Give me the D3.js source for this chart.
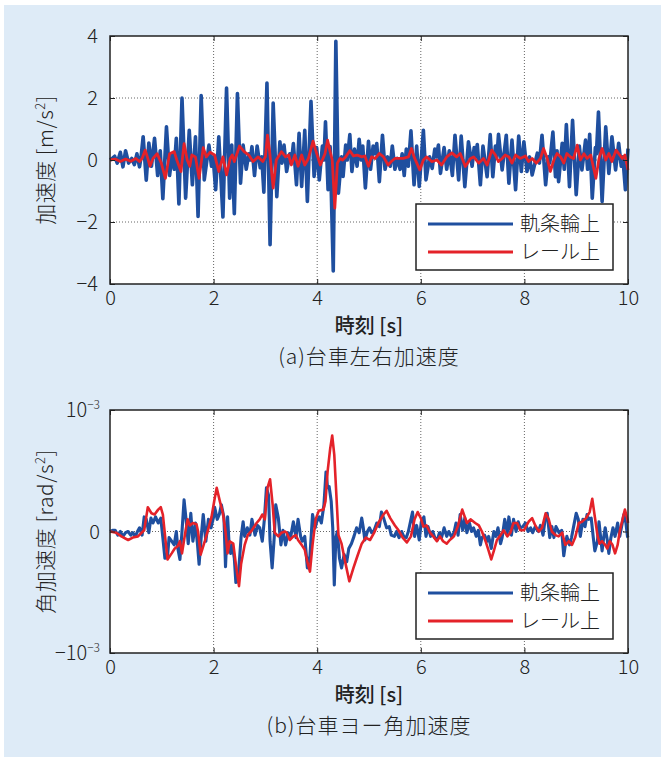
<!DOCTYPE html>
<html>
<head>
<meta charset="utf-8">
<script src="https://cdn.jsdelivr.net/npm/d3@7"></script>
<style>
  body { margin: 0; background: #fff; }
  svg text { font-family: "Noto Sans CJK JP", "Noto Sans", sans-serif; fill: #222; font-weight: 300; }
  .axis path { display: none; }
  .axis line { stroke: #222; stroke-width: 1; }
  .axis text { font-size: 20px; }
</style>
</head>
<body>
<svg id="chart" width="665" height="760"></svg>
<script>
// (a) lateral bogie acceleration [m/s^2], [time s, value]
var accWheel = [[0,0],[0.05,0.06],[0.09,0.12],[0.14,-0.1],[0.2,0.25],[0.25,-0.22],[0.3,0.3],[0.36,-0.1],[0.42,0.05],[0.47,-0.15],[0.52,0.2],[0.57,-0.22],[0.6,0.1],[0.64,0.75],[0.7,-0.65],[0.75,0.55],[0.8,-0.2],[0.86,0.7],[0.92,-0.5],[0.97,0.3],[1.02,-1.25],[1.09,1.07],[1.15,-0.5],[1.2,0.2],[1.24,-0.3],[1.28,0.7],[1.33,-1.42],[1.39,2.0],[1.46,-1.23],[1.53,0.96],[1.59,-0.8],[1.65,0.75],[1.7,-1.82],[1.76,2.08],[1.82,-0.64],[1.91,0.48],[1.96,-0.2],[1.99,0.1],[2.04,-0.96],[2.1,0.75],[2.18,-1.84],[2.25,2.32],[2.31,-1.23],[2.35,0.48],[2.4,-1.73],[2.46,2.14],[2.52,-0.75],[2.57,0.48],[2.63,-0.3],[2.68,0.2],[2.71,0.0],[2.74,0.43],[2.79,-0.5],[2.84,0.45],[2.9,-0.25],[2.93,0.1],[2.97,-1.04],[3.03,2.48],[3.09,-2.73],[3.15,1.84],[3.22,-1.18],[3.28,0.59],[3.32,-0.1],[3.36,0.48],[3.41,-0.37],[3.47,0.2],[3.5,-0.1],[3.54,0.53],[3.6,-0.8],[3.65,0.86],[3.7,-0.85],[3.76,0.96],[3.81,-1.34],[3.88,1.89],[3.94,-0.53],[3.99,0.4],[4.04,-0.64],[4.1,0.45],[4.13,0.0],[4.16,1.23],[4.21,-0.96],[4.25,0.43],[4.31,-3.58],[4.36,3.83],[4.41,-1.07],[4.47,0.1],[4.5,-0.53],[4.55,0.48],[4.58,0.0],[4.63,0.82],[4.67,-0.37],[4.72,0.35],[4.77,-0.2],[4.81,0.67],[4.85,0.0],[4.88,0.45],[4.93,-0.9],[4.99,0.6],[5.03,-0.3],[5.08,0.45],[5.11,0.2],[5.15,0.53],[5.2,-0.7],[5.26,0.8],[5.31,-0.3],[5.36,0.1],[5.41,-0.2],[5.45,0.45],[5.5,-0.3],[5.55,0.05],[5.6,-0.3],[5.64,0.2],[5.68,-0.5],[5.72,0.35],[5.76,-0.2],[5.81,0.94],[5.87,-0.8],[5.92,0.45],[5.97,-0.85],[6.05,0.96],[6.1,-0.64],[6.17,0.1],[6.22,-0.27],[6.27,0.35],[6.3,0.1],[6.34,0.48],[6.38,-0.43],[6.45,0.4],[6.5,-0.3],[6.55,0.3],[6.61,-0.5],[6.66,0.8],[6.73,-0.64],[6.78,0.77],[6.85,-0.86],[6.92,0.59],[6.99,-0.2],[7.03,0.4],[7.06,0.1],[7.09,0.5],[7.15,-0.8],[7.2,0.45],[7.28,-0.54],[7.34,0.82],[7.39,-0.54],[7.44,0.45],[7.47,0.1],[7.5,0.83],[7.57,-0.32],[7.65,0.8],[7.7,-0.75],[7.76,0.64],[7.83,-0.96],[7.89,0.77],[7.94,-0.37],[7.99,0.59],[8.05,-0.37],[8.1,0.1],[8.15,-0.48],[8.25,0.22],[8.29,-0.1],[8.34,0.8],[8.41,-0.8],[8.46,0.1],[8.49,-0.1],[8.55,0.9],[8.6,-0.54],[8.63,0.3],[8.66,-0.7],[8.73,0.54],[8.77,-0.3],[8.81,1.14],[8.87,-0.86],[8.93,1.28],[9.0,-1.12],[9.06,0.45],[9.11,-0.32],[9.18,0.64],[9.22,-0.3],[9.26,0.83],[9.31,-1.23],[9.37,0.4],[9.39,0.2],[9.43,1.55],[9.5,-1.34],[9.57,1.07],[9.63,-0.43],[9.69,0.75],[9.76,-0.32],[9.82,0.54],[9.87,-0.2],[9.9,0.1],[9.95,-0.96],[10,0.37]];

var accRail = [[0,0],[0.1,0.03],[0.2,-0.05],[0.3,0.03],[0.4,-0.04],[0.5,0.05],[0.57,-0.05],[0.62,0.05],[0.68,0.32],[0.73,0.05],[0.77,-0.2],[0.83,0.05],[0.91,0.2],[0.99,-0.1],[1.07,-0.59],[1.15,0.2],[1.24,0.27],[1.29,0.0],[1.37,-0.37],[1.43,0.53],[1.49,0.0],[1.54,-0.2],[1.58,0.16],[1.65,0.1],[1.72,-0.59],[1.8,0.4],[1.86,0.1],[1.93,0.25],[2.02,0.16],[2.1,-0.37],[2.18,0.1],[2.25,-0.48],[2.32,0.05],[2.36,0.16],[2.4,-0.05],[2.5,0.45],[2.59,0.27],[2.68,0.16],[2.76,-0.05],[2.86,0.1],[2.95,-0.05],[3.0,0.1],[3.04,0.8],[3.08,0.3],[3.15,-0.91],[3.21,0.0],[3.31,0.27],[3.39,0.1],[3.45,0.16],[3.5,-0.16],[3.57,0.16],[3.63,-0.2],[3.7,0.16],[3.76,-0.16],[3.83,0.05],[3.92,0.61],[3.97,0.32],[4.06,-0.16],[4.15,0.2],[4.2,0.64],[4.25,0.27],[4.29,0.0],[4.34,-1.55],[4.39,-0.1],[4.44,0.05],[4.49,0.0],[4.55,0.1],[4.63,0.3],[4.7,0.13],[4.77,0.16],[4.86,0.1],[4.92,0.13],[4.99,-0.2],[5.05,0.1],[5.12,0.05],[5.2,0.21],[5.28,0.1],[5.37,-0.16],[5.43,-0.05],[5.5,0.05],[5.57,0.05],[5.66,0.05],[5.76,0.1],[5.82,0.37],[5.87,0.1],[5.98,-0.32],[6.05,0.0],[6.11,0.1],[6.21,-0.05],[6.31,0.0],[6.4,-0.16],[6.5,0.1],[6.6,0.23],[6.69,0.1],[6.76,0.21],[6.86,-0.21],[6.96,0.05],[7.02,0.1],[7.12,-0.1],[7.21,0.05],[7.28,-0.16],[7.37,0.32],[7.44,0.16],[7.5,-0.05],[7.57,0.05],[7.63,0.16],[7.7,0.1],[7.76,-0.1],[7.83,0.16],[7.92,0.05],[8.02,0.13],[8.08,-0.05],[8.15,0.05],[8.23,-0.1],[8.31,0.05],[8.37,0.37],[8.44,0.05],[8.5,-0.37],[8.57,0.0],[8.63,0.21],[8.7,0.1],[8.76,-0.1],[8.82,0.21],[8.89,0.1],[8.95,0.05],[9.02,0.48],[9.08,0.0],[9.15,0.2],[9.21,0.05],[9.28,0.16],[9.38,-0.59],[9.44,0.05],[9.5,0.37],[9.57,0.0],[9.63,0.21],[9.69,-0.05],[9.77,0.32],[9.84,0.16],[9.89,0.05],[9.94,0.16],[10,-0.32]];

// (b) bogie yaw angular acceleration, in units of 10^-3 rad/s^2
var yawWheel = [[0,0],[0.05,0.01],[0.1,0.01],[0.15,-0.03],[0.2,0.0],[0.25,-0.04],[0.3,-0.01],[0.35,0.0],[0.4,-0.03],[0.44,-0.01],[0.49,-0.04],[0.53,0.0],[0.57,0.03],[0.62,-0.03],[0.66,0.12],[0.7,0.1],[0.75,-0.01],[0.79,0.11],[0.83,0.07],[0.88,0.12],[0.93,0.07],[0.98,0.11],[1.02,-0.05],[1.06,-0.22],[1.11,-0.21],[1.14,-0.05],[1.19,-0.08],[1.24,-0.11],[1.28,0.0],[1.31,-0.14],[1.35,-0.23],[1.39,0.0],[1.43,0.26],[1.48,0.05],[1.51,-0.1],[1.56,0.15],[1.6,-0.08],[1.65,0.07],[1.69,-0.11],[1.72,-0.27],[1.77,0.0],[1.8,0.14],[1.85,-0.08],[1.9,0.1],[1.95,0.03],[2.0,0.12],[2.02,0.2],[2.07,0.1],[2.11,0.14],[2.15,0.22],[2.2,0.11],[2.23,-0.29],[2.27,0.12],[2.3,-0.11],[2.33,-0.18],[2.36,-0.11],[2.4,-0.22],[2.43,-0.42],[2.47,-0.41],[2.53,-0.05],[2.57,0.08],[2.6,-0.04],[2.65,0.03],[2.7,-0.03],[2.74,0.1],[2.8,-0.03],[2.85,0.05],[2.89,0.03],[2.94,-0.08],[2.98,0.1],[3.02,0.36],[3.06,0.3],[3.09,-0.08],[3.13,-0.3],[3.17,-0.05],[3.2,0.22],[3.25,0.11],[3.3,-0.11],[3.34,0.01],[3.39,-0.11],[3.44,-0.01],[3.49,-0.04],[3.54,0.08],[3.59,-0.05],[3.63,0.1],[3.68,-0.04],[3.71,-0.08],[3.76,-0.04],[3.81,-0.3],[3.86,-0.2],[3.91,0.14],[3.96,0.03],[3.99,0.08],[4.04,0.12],[4.08,0.07],[4.13,0.22],[4.17,0.49],[4.2,0.36],[4.23,0.37],[4.27,0.25],[4.3,0.03],[4.33,-0.44],[4.36,-0.05],[4.39,0.0],[4.43,-0.22],[4.47,-0.3],[4.52,-0.19],[4.57,-0.25],[4.61,-0.14],[4.66,-0.1],[4.71,-0.04],[4.76,0.03],[4.81,-0.01],[4.86,0.11],[4.89,0.03],[4.92,-0.07],[4.97,0.0],[5.01,0.03],[5.05,-0.01],[5.1,0.01],[5.15,0.07],[5.2,0.04],[5.24,0.16],[5.29,0.1],[5.34,0.03],[5.39,0.04],[5.43,-0.03],[5.49,-0.04],[5.53,0.0],[5.58,-0.05],[5.63,0.0],[5.67,-0.04],[5.72,-0.05],[5.76,0.0],[5.8,0.08],[5.84,0.16],[5.88,-0.04],[5.92,0.05],[5.97,-0.07],[6.01,0.08],[6.06,0.12],[6.1,-0.04],[6.14,0.04],[6.19,-0.04],[6.23,0.0],[6.27,-0.05],[6.32,-0.07],[6.36,-0.01],[6.4,-0.05],[6.45,0.03],[6.5,-0.04],[6.54,0.0],[6.6,-0.05],[6.64,-0.01],[6.68,0.07],[6.72,-0.03],[6.76,0.14],[6.81,0.01],[6.85,0.11],[6.89,-0.01],[6.94,0.07],[6.98,0.0],[7.02,0.03],[7.07,-0.04],[7.11,0.01],[7.15,-0.11],[7.18,-0.05],[7.23,-0.03],[7.28,-0.08],[7.31,-0.04],[7.36,-0.14],[7.41,0.0],[7.45,-0.04],[7.49,0.03],[7.54,-0.1],[7.57,-0.05],[7.62,0.1],[7.67,-0.01],[7.7,0.12],[7.75,-0.03],[7.79,0.1],[7.84,0.0],[7.88,0.08],[7.92,0.03],[7.97,0.04],[8.02,0.07],[8.07,0.0],[8.12,0.03],[8.16,-0.01],[8.21,0.04],[8.27,0.0],[8.31,0.05],[8.36,-0.03],[8.4,0.1],[8.44,0.15],[8.49,-0.05],[8.53,0.04],[8.57,-0.05],[8.61,0.04],[8.67,-0.01],[8.72,0.01],[8.76,-0.2],[8.79,-0.11],[8.82,-0.04],[8.87,-0.11],[8.91,-0.05],[8.95,0.04],[9.0,0.15],[9.04,0.1],[9.08,-0.04],[9.13,0.1],[9.17,0.04],[9.21,0.14],[9.24,0.1],[9.29,0.11],[9.33,-0.05],[9.36,-0.16],[9.41,-0.08],[9.44,0.08],[9.47,-0.04],[9.5,-0.16],[9.53,-0.05],[9.56,0.03],[9.6,-0.07],[9.63,-0.18],[9.67,-0.05],[9.71,0.03],[9.75,-0.04],[9.8,0.07],[9.84,-0.04],[9.88,0.05],[9.92,0.14],[9.96,0.07],[9.99,-0.04],[10,-0.05]];

var yawRail = [[0,0],[0.12,-0.01],[0.22,-0.04],[0.35,-0.07],[0.44,-0.05],[0.54,-0.04],[0.61,-0.01],[0.66,0.01],[0.73,0.2],[0.8,0.15],[0.86,0.14],[0.93,0.18],[0.98,0.2],[1.02,0.14],[1.11,-0.23],[1.19,-0.18],[1.25,-0.14],[1.31,-0.12],[1.35,-0.08],[1.39,-0.18],[1.46,0.01],[1.5,0.1],[1.54,0.05],[1.6,0.07],[1.67,0.06],[1.7,0.0],[1.75,-0.19],[1.83,-0.08],[1.89,0.01],[1.96,0.12],[2.02,0.27],[2.06,0.36],[2.12,0.25],[2.18,0.15],[2.23,0.0],[2.27,-0.18],[2.31,-0.08],[2.38,-0.1],[2.43,-0.27],[2.49,-0.45],[2.53,-0.27],[2.6,-0.11],[2.66,-0.03],[2.74,0.01],[2.83,0.07],[2.89,0.1],[2.94,0.14],[2.99,0.1],[3.04,0.36],[3.09,0.43],[3.14,0.22],[3.18,-0.01],[3.25,-0.04],[3.31,-0.01],[3.38,0.0],[3.41,-0.01],[3.47,-0.07],[3.54,-0.04],[3.59,-0.03],[3.63,-0.07],[3.7,-0.11],[3.76,-0.15],[3.81,-0.25],[3.86,-0.33],[3.91,-0.11],[3.97,0.1],[4.03,0.17],[4.12,0.18],[4.16,0.25],[4.2,0.49],[4.25,0.68],[4.29,0.79],[4.33,0.63],[4.38,0.22],[4.41,-0.03],[4.47,-0.1],[4.54,-0.25],[4.62,-0.41],[4.7,-0.3],[4.77,-0.21],[4.86,-0.1],[4.94,-0.05],[5.02,-0.07],[5.1,-0.01],[5.18,0.07],[5.28,0.14],[5.34,0.17],[5.41,0.11],[5.5,0.05],[5.57,0.01],[5.65,-0.05],[5.73,-0.09],[5.81,-0.04],[5.88,0.1],[5.94,0.16],[6.0,0.11],[6.05,0.04],[6.11,0.05],[6.18,-0.01],[6.24,-0.04],[6.31,-0.08],[6.37,-0.04],[6.43,-0.08],[6.5,-0.1],[6.56,-0.07],[6.64,-0.04],[6.72,0.05],[6.8,0.18],[6.89,0.07],[6.96,0.1],[7.05,0.07],[7.12,0.05],[7.18,0.0],[7.25,-0.08],[7.31,-0.16],[7.36,-0.23],[7.41,-0.16],[7.47,-0.07],[7.54,-0.03],[7.6,0.01],[7.67,-0.04],[7.73,-0.01],[7.79,0.07],[7.86,0.07],[7.92,0.01],[7.99,0.01],[8.08,0.08],[8.15,0.11],[8.21,0.05],[8.28,0.0],[8.34,0.03],[8.41,0.15],[8.47,0.1],[8.53,0.0],[8.6,-0.03],[8.66,-0.04],[8.73,-0.01],[8.79,-0.11],[8.86,-0.08],[8.92,-0.11],[8.98,-0.05],[9.05,0.07],[9.11,0.08],[9.19,0.11],[9.26,0.16],[9.31,0.27],[9.36,0.12],[9.41,-0.03],[9.45,-0.1],[9.5,-0.08],[9.56,-0.11],[9.6,-0.14],[9.65,-0.08],[9.7,-0.11],[9.75,-0.18],[9.8,-0.11],[9.84,0.0],[9.9,0.11],[9.94,0.18],[9.99,0.1],[10,0.07]];

var xTicks = [0, 2, 4, 6, 8, 10];
var accTicks = [-4, -2, 0, 2, 4];
var yawTicks = [-1, 0, 1];
var legendNames = ["軌条輪上", "レール上"];
var colors = ["#1f4f9f", "#e42229"];

var svg = d3.select("#chart");

// light blue panel background
svg.append("rect")
	.attr("x", 4).attr("y", 5)
	.attr("width", 657).attr("height", 752)
	.attr("fill", "#deebf7");

// Draw one panel
function drawPanel(opt) {
	var x = d3.scaleLinear().domain([0, 10]).range([opt.left, opt.right]);
	var y = d3.scaleLinear().domain(opt.domain).range([opt.bottom, opt.top]);
	var g = svg.append("g");

	g.append("rect")
		.attr("x", opt.left).attr("y", opt.top)
		.attr("width", opt.right - opt.left).attr("height", opt.bottom - opt.top)
		.attr("fill", "#fff");

	// dotted grid
	g.selectAll(".vgrid")
		.data(xTicks.slice(1, -1))
	  .enter().append("line")
		.attr("x1", function(d) { return x(d); }).attr("x2", function(d) { return x(d); })
		.attr("y1", opt.top).attr("y2", opt.bottom)
		.attr("stroke", "#666").attr("stroke-width", 1).attr("stroke-dasharray", "1,2");
	g.selectAll(".hgrid")
		.data(opt.ticks.slice(1, -1))
	  .enter().append("line")
		.attr("x1", opt.left).attr("x2", opt.right)
		.attr("y1", function(d) { return y(d); }).attr("y2", function(d) { return y(d); })
		.attr("stroke", "#666").attr("stroke-width", 1).attr("stroke-dasharray", "1,2");

	// data lines
	var line = d3.line()
		.x(function(d) { return x(d[0]); })
		.y(function(d) { return y(d[1]); });
	opt.series.forEach(function(s, i) {
		g.append("path")
			.datum(s)
			.attr("d", line)
			.attr("fill", "none")
			.attr("stroke", colors[i])
			.attr("stroke-width", opt.widths[i])
			.attr("stroke-linejoin", "round");
	});

	// axes, ticks inward on all sides
	g.append("g")
		.attr("class", "axis")
		.attr("transform", "translate(0," + opt.bottom + ")")
		.call(d3.axisBottom(x).tickValues(xTicks).tickSizeInner(-5).tickSizeOuter(0).tickPadding(7));
	g.append("g")
		.attr("class", "axis")
		.attr("transform", "translate(0," + opt.top + ")")
		.call(d3.axisTop(x).tickValues(xTicks).tickSizeInner(-5).tickSizeOuter(0).tickFormat(""));
	g.append("g")
		.attr("class", "axis")
		.attr("transform", "translate(" + opt.left + ",0)")
		.call(d3.axisLeft(y).tickValues(opt.ticks).tickSizeInner(-5).tickSizeOuter(0).tickPadding(12)
			.tickFormat(opt.tickText ? "" : function(d) { return d < 0 ? "\u2212" + (-d) : d; }));
	g.append("g")
		.attr("class", "axis")
		.attr("transform", "translate(" + opt.right + ",0)")
		.call(d3.axisRight(y).tickValues(opt.ticks).tickSizeInner(-5).tickSizeOuter(0).tickFormat(""));

	if (opt.tickText) {
		opt.ticks.forEach(function(d) {
			var t = g.append("text")
				.attr("x", opt.left - 10)
				.attr("y", y(d) + 7)
				.attr("text-anchor", "end")
				.style("font-size", "20px");
			t.append("tspan").text(d === 0 ? "0" : (d < 0 ? "\u221210" : "10"));
			if (d !== 0) {
				t.append("tspan").attr("dy", -8).style("font-size", "12px").text("\u22123");
			}
		});
	}

	g.append("rect")
		.attr("x", opt.left).attr("y", opt.top)
		.attr("width", opt.right - opt.left).attr("height", opt.bottom - opt.top)
		.attr("fill", "none").attr("stroke", "#222").attr("stroke-width", 1.5);

	// y label
	var yl = g.append("text")
		.attr("transform", "translate(53," + ((opt.top + opt.bottom) / 2) + ") rotate(-90)")
		.attr("text-anchor", "middle")
		.style("font-size", "21px").style("letter-spacing", "0.5px");
	yl.append("tspan").text(opt.yLabel);
	yl.append("tspan").attr("dy", -8).style("font-size", "13px").text("2");
	yl.append("tspan").attr("dy", 8).text("]");

	// x label and caption
	g.append("text")
		.attr("x", (opt.left + opt.right) / 2).attr("y", opt.bottom + 49)
		.attr("text-anchor", "middle")
		.style("font-size", "20px").style("font-weight", "500")
		.text("時刻 [s]");
	g.append("text")
		.attr("x", (opt.left + opt.right) / 2).attr("y", opt.bottom + 80)
		.attr("text-anchor", "middle")
		.style("font-size", "21px").style("letter-spacing", "1px")
		.text(opt.caption);

	// legend
	var lg = g.append("g").attr("transform", "translate(416," + opt.legendTop + ")");
	lg.append("rect")
		.attr("width", 197).attr("height", 66)
		.attr("fill", "#fff").attr("stroke", "#222").attr("stroke-width", 1.5);
	legendNames.forEach(function(name, i) {
		var ly = 20 + i * 28;
		lg.append("line")
			.attr("x1", 12).attr("x2", 97)
			.attr("y1", ly).attr("y2", ly)
			.attr("stroke", colors[i]).attr("stroke-width", 3);
		lg.append("text")
			.attr("x", 104).attr("y", ly + 7)
			.style("font-size", "20px")
			.text(name);
	});
}

drawPanel({
	left: 110, right: 628, top: 36, bottom: 284,
	domain: [-4, 4], ticks: accTicks,
	series: [accWheel, accRail], widths: [3.6, 2.8],
	yLabel: "加速度 [m/s", caption: "(a)台車左右加速度",
	legendTop: 204
});

drawPanel({
	left: 110, right: 628, top: 410, bottom: 653,
	domain: [-1, 1], ticks: yawTicks, tickText: true,
	series: [yawWheel, yawRail], widths: [3.1, 2.6],
	yLabel: "角加速度 [rad/s", caption: "(b)台車ヨー角加速度",
	legendTop: 573
});
</script>
</body>
</html>
